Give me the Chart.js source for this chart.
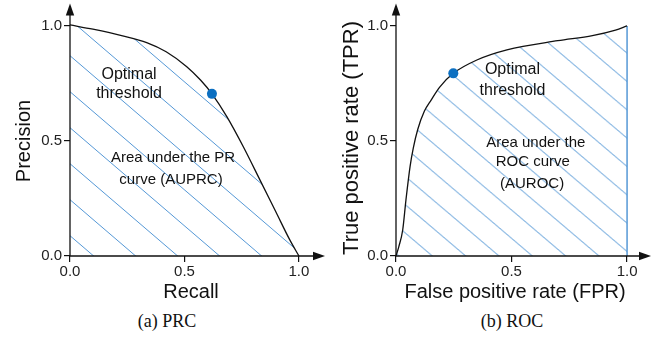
<!DOCTYPE html>
<html><head><meta charset="utf-8">
<script src="https://cdn.jsdelivr.net/npm/chart.js@4.4.0/dist/chart.umd.min.js"></script>
<style>
html,body{margin:0;padding:0;background:#fff;}
#wrap{position:relative;width:672px;height:354px;overflow:hidden;background:#fff;}
.panel{position:absolute;top:0;width:336px;height:310px;}
.cap{position:absolute;font-family:'Liberation Serif','Times New Roman',serif;font-size:18px;color:#111;white-space:nowrap;transform:translateX(-50%);top:311px;line-height:20px;}
</style></head>
<body>
<div id="wrap">
  <div class="panel" style="left:0"><canvas id="prc" width="336" height="310"></canvas></div>
  <div class="panel" style="left:336px"><canvas id="roc" width="336" height="310"></canvas></div>
  <div class="cap" style="left:167px">(a) PRC</div>
  <div class="cap" style="left:512px">(b) ROC</div>
</div>
<script>
// ---- data ----
const tickValues = [0, 0.5, 1.0];

const prcRecall    = [0, 0.10, 0.23, 0.335, 0.42, 0.51, 0.57, 0.62, 0.685, 0.757, 0.83, 0.90, 0.96, 1.0];
const prcPrecision = [1.005, 0.986, 0.957, 0.928, 0.888, 0.823, 0.765, 0.705, 0.606, 0.475, 0.33, 0.19, 0.07, 0.0];
const prcOptimal   = [0.62, 0.705];

const rocFpr = [0, 0.012, 0.029, 0.043, 0.061, 0.075, 0.094, 0.123, 0.152, 0.19, 0.248, 0.35, 0.48, 0.70, 0.85, 0.95, 1.0];
const rocTpr = [0, 0.04, 0.113, 0.243, 0.39, 0.47, 0.55, 0.63, 0.678, 0.735, 0.794, 0.852, 0.896, 0.936, 0.958, 0.982, 1.0];
const rocOptimal = [0.248, 0.794];

const prcLabels = ['Optimal', 'threshold', 'Area under the PR', 'curve (AUPRC)'];
const rocLabels = ['Optimal', 'threshold', 'Area under the', 'ROC curve', '(AUROC)'];
const axisTitles = {prcX: 'Recall', prcY: 'Precision', rocX: 'False positive rate (FPR)', rocY: 'True positive rate (TPR)'};

// ---- styling ----
const FONT = "'Liberation Sans', Arial, Helvetica, sans-serif";
const INK = '#111';
const HATCH = '#5598d6';
const DOT = '#0b6fc1';

function hatch(dx, slope, n, phase) {
  const W = Math.round(dx * n), H = Math.round(dx * n * slope);
  const c = document.createElement('canvas'); c.width = W; c.height = H;
  const g = c.getContext('2d');
  g.strokeStyle = HATCH; g.lineWidth = 1;
  const r = W / H;
  g.beginPath();
  for (let k = -n - 2; k <= 2 * n + 2; k++) {
    const xs = k * W / n;
    g.moveTo(xs - r * 5, -5);
    g.lineTo(xs + r * (H + 5), H + 5);
  }
  g.stroke();
  const p = g.createPattern(c, 'repeat');
  p.setTransform(new DOMMatrix([1, 0, 0, 1, phase, 0]));
  return p;
}

const pts = (xs, ys) => xs.map((v, i) => ({x: v, y: ys[i]}));

const deco = {
  id: 'deco',
  afterDatasetsDraw(chart, args, o) {
    const {ctx, scales: {x, y}} = chart;
    const x0 = x.getPixelForValue(0), y0 = y.getPixelForValue(0);
    ctx.save();
    ctx.strokeStyle = INK; ctx.fillStyle = INK; ctx.lineWidth = 1.3;
    ctx.beginPath();
    ctx.moveTo(x0, y0); ctx.lineTo(o.xTip - 8, y0);
    ctx.moveTo(x0, y0); ctx.lineTo(x0, o.yTip + 8);
    ctx.stroke();
    ctx.beginPath(); ctx.moveTo(o.xTip, y0); ctx.lineTo(o.xTip - 12, y0 - 4.2); ctx.lineTo(o.xTip - 12, y0 + 4.2); ctx.closePath(); ctx.fill();
    ctx.beginPath(); ctx.moveTo(x0, o.yTip); ctx.lineTo(x0 - 4.2, o.yTip + 12); ctx.lineTo(x0 + 4.2, o.yTip + 12); ctx.closePath(); ctx.fill();
    ctx.textAlign = 'center'; ctx.textBaseline = 'alphabetic';
    for (const n of o.notes) {
      ctx.font = n.size + 'px ' + FONT;
      ctx.fillText(n.text, x.getPixelForValue(n.x), y.getPixelForValue(n.y));
    }
    ctx.restore();
  }
};

function scales(xMax, yMax, xTitle, yTitle, yWidth, yPad, ySize) {
  const ticks = {font: {family: FONT, size: 15}, color: '#222', maxRotation: 0, autoSkip: false,
                 callback: v => Number(v).toFixed(1)};
  const grid = {display: true, drawOnChartArea: false, drawTicks: true, tickLength: 6, color: INK, lineWidth: 1.2};
  const setTicks = s => { s.ticks = tickValues.map(v => ({value: v})); };
  return {
    x: {type: 'linear', min: 0, max: xMax, ticks: {...ticks, padding: 1}, grid, border: {display: false},
        afterBuildTicks: setTicks, afterFit: s => { s.height = 54; },
        title: {display: true, text: xTitle, color: INK, font: {family: FONT, size: 20}, padding: {top: 0, bottom: 6}}},
    y: {type: 'linear', min: 0, max: yMax, ticks: {...ticks, padding: 2}, grid, border: {display: false},
        afterBuildTicks: setTicks, afterFit: s => { s.width = yWidth; },
        title: {display: true, text: yTitle, color: INK, font: {family: FONT, size: ySize}, padding: {top: yPad, bottom: 0}}}
  };
}

function makeChart(id, xs, ys, opt, extra, pattern, layoutPad, sc, deco_o) {
  const datasets = [
    {data: [{x: opt[0], y: opt[1]}], showLine: false, pointRadius: 5, pointHoverRadius: 5,
     pointBackgroundColor: DOT, pointBorderWidth: 0, clip: false},
    {data: pts(xs, ys), borderColor: INK, borderWidth: 1.3, pointRadius: 0, fill: 'origin',
     backgroundColor: pattern, cubicInterpolationMode: 'monotone', clip: false},
    ...extra
  ];
  return new Chart(document.getElementById(id), {
    type: 'line',
    data: {datasets},
    options: {
      responsive: false, animation: false, devicePixelRatio: 1,
      layout: {padding: layoutPad},
      scales: sc,
      plugins: {legend: {display: false}, tooltip: {enabled: false}, deco: deco_o}
    },
    plugins: [deco]
  });
}

makeChart('prc', prcRecall, prcPrecision, prcOptimal, [], hatch(42, 36 / 42, 1, 5),
  {left: 0, top: 26, right: 24, bottom: 0},
  scales(1.057, 1.0, axisTitles.prcX, axisTitles.prcY, 70, 12, 20),
  {xTip: 325, yTip: 3.5, notes: [
    {text: prcLabels[0], x: 0.258, y: 0.771, size: 16},
    {text: prcLabels[1], x: 0.258, y: 0.687, size: 16},
    {text: prcLabels[2], x: 0.45, y: 0.407, size: 15},
    {text: prcLabels[3], x: 0.441, y: 0.313, size: 15}
  ]});

const lastX = rocFpr[rocFpr.length - 1], lastY = rocTpr[rocTpr.length - 1];
makeChart('roc', rocFpr, rocTpr, rocOptimal,
  [{data: [{x: lastX, y: 0}, {x: lastX, y: lastY}], borderColor: HATCH, borderWidth: 1.5, pointRadius: 0, fill: false}],
  hatch(100 / 3, 0.85, 3, 28.5),
  {left: 0, top: 20, right: 38, bottom: 0},
  scales(1.03, 1.026, axisTitles.rocX, axisTitles.rocY, 60, 3, 22),
  {xTip: 315, yTip: 3.5, notes: [
    {text: rocLabels[0], x: 0.504, y: 0.791, size: 16},
    {text: rocLabels[1], x: 0.504, y: 0.70, size: 16},
    {text: rocLabels[2], x: 0.605, y: 0.472, size: 15},
    {text: rocLabels[3], x: 0.592, y: 0.391, size: 15},
    {text: rocLabels[4], x: 0.589, y: 0.296, size: 15}
  ]});
</script>
</body></html>
